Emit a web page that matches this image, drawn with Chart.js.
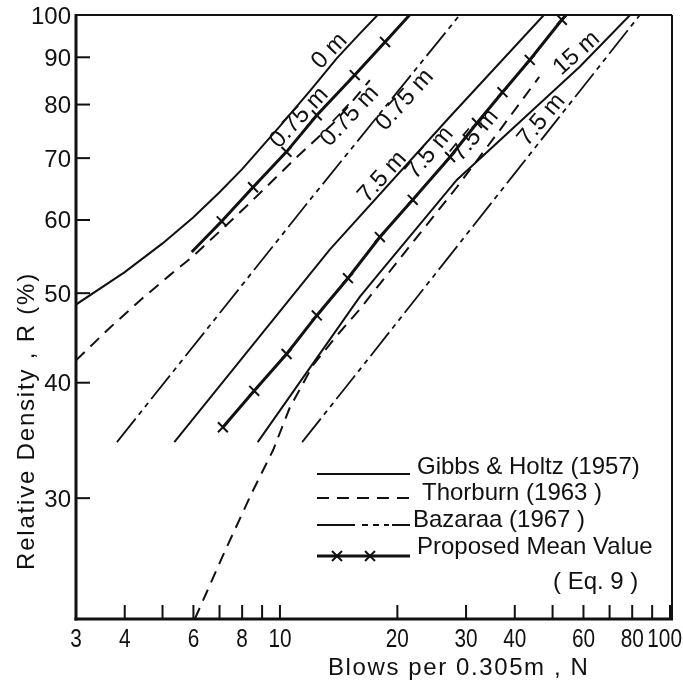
<!DOCTYPE html>
<html>
<head>
<meta charset="utf-8">
<script src="https://cdn.jsdelivr.net/npm/chart.js@4.4.1/dist/chart.umd.min.js"></script>
<style>
  html, body { margin: 0; padding: 0; background: #fff; }
  #wrap { width: 683px; height: 685px; }
</style>
</head>
<body>
<div id="wrap"><canvas id="densityChart" width="683" height="685"></canvas></div>
<script>
// axis ticks
var xTicks = [3, 4, 5, 6, 7, 8, 9, 10, 20, 30, 40, 50, 60, 70, 80, 90, 100];
var xTickLabels = ['3', '4', '', '6', '', '8', '', '10', '20', '30', '40', '', '60', '', '80', '', '100'];
var yTicks = [30, 40, 50, 60, 70, 80, 90, 100];
var yTickLabels = ['30', '40', '50', '60', '70', '80', '90', '100'];

// Gibbs & Holtz (1957)
var gibbs0N = [3, 4, 5, 6, 7, 8, 10, 12, 14, 16, 17.8];
var gibbs0R = [48.6, 52.7, 56.6, 60.4, 64.3, 68.1, 75.8, 83.0, 89.8, 95.4, 100];
var gibbs75N = [5.36, 13.4, 27.2, 47.5];
var gibbs75R = [34.5, 55.7, 77.5, 100];
var gibbs15N = [8.77, 16.0, 18.0, 28.4, 58.7, 79];
var gibbs15R = [34.5, 49.5, 52.6, 66.3, 87.9, 100];

// Thorburn (1963)
var thor075N = [3, 3.67, 4.45, 5.22, 5.98, 7.0, 8.37, 10.9, 14.0, 17.0];
var thor075R = [42.3, 45.9, 49.4, 52.3, 54.8, 58.3, 62.6, 69.8, 77.0, 85.0];
var thor75N = [6.05, 7.2, 8.47, 9.6, 10.6, 12.16, 14, 16.0, 21, 28.4, 37, 46.2];
var thor75R = [22.2, 26.2, 30.4, 33.8, 37.6, 41.8, 45.0, 48.0, 55.5, 65.1, 75.5, 85.7];

// Bazaraa (1967)
var baz075N = [3.82, 11.94, 28.9];
var baz075R = [34.5, 63.1, 100];
var baz75N = [11.4, 16, 40, 83.7];
var baz75R = [34.5, 41.3, 67.4, 100];

// Proposed mean value (Eq. 9)
var prop075N = [5.94, 7.09, 8.53, 10.39, 12.43, 15.55, 18.6, 21.5];
var prop075R = [55.4, 59.8, 65.1, 71.1, 77.9, 86.1, 93.5, 100];
var prop75N = [7.14, 8.59, 10.4, 12.43, 14.94, 18.04, 21.9, 27.3, 32.0, 37.2, 43.7, 52.8, 54.2];
var prop75R = [35.8, 39.2, 42.97, 47.3, 51.9, 57.5, 63.1, 70.2, 76.4, 82.5, 89.4, 98.8, 100];

// curve labels
var curveLabels = [
  { text: '0 m', n: 13.4, r: 91.4, rot: -46 },
  { text: '0.75 m', n: 11.2, r: 77.4, rot: -47 },
  { text: '0.75 m', n: 15.1, r: 77.7, rot: -47 },
  { text: '0.75 m', n: 20.9, r: 80.9, rot: -48 },
  { text: '7.5 m', n: 18.3, r: 66.8, rot: -48 },
  { text: '7.5 m', n: 24.2, r: 70.9, rot: -50 },
  { text: '7.5 m', n: 31.6, r: 74.1, rot: -50 },
  { text: '7.5 m', n: 46.8, r: 77.0, rot: -50 },
  { text: '15 m', n: 57.6, r: 90.9, rot: -42 }
];

var INK = '#111';
var FONT = '"Liberation Sans", Arial, sans-serif';

function pts(n, r) {
  return n.map(function (v, i) { return { x: v, y: r[i] }; });
}

function gibbs(n, r) {
  return { data: pts(n, r), borderColor: INK, borderWidth: 2, pointRadius: 0 };
}
function thorburn(n, r) {
  return { data: pts(n, r), borderColor: INK, borderWidth: 2, borderDash: [12, 8], pointRadius: 0 };
}
function bazaraa(n, r) {
  return { data: pts(n, r), borderColor: INK, borderWidth: 1.8, borderDash: [30, 5, 5, 5, 5, 5], pointRadius: 0 };
}
function proposed(n, r, markFirst) {
  return {
    data: pts(n, r), borderColor: INK, borderWidth: 3,
    pointStyle: 'crossRot', pointBorderColor: INK, pointBorderWidth: 2,
    pointRadius: function (c) {
      var last = c.dataset.data.length - 1;
      if (c.dataIndex === last) return 0;
      if (c.dataIndex === 0 && !markFirst) return 0;
      return 7;
    }
  };
}

function line(ctx, x1, y1, x2, y2) {
  ctx.beginPath(); ctx.moveTo(x1, y1); ctx.lineTo(x2, y2); ctx.stroke();
}

var framePlugin = {
  id: 'frame',
  afterDatasetsDraw: function (chart) {
    var ctx = chart.ctx, a = chart.chartArea;
    var xs = chart.scales.x, ys = chart.scales.y;
    ctx.save();
    ctx.strokeStyle = INK;
    ctx.fillStyle = INK;

    // box
    ctx.lineWidth = 2;
    line(ctx, a.left, a.top, a.right + 2, a.top);
    line(ctx, a.right + 2, a.top, a.right + 2, a.bottom);
    ctx.lineWidth = 3;
    line(ctx, a.left, a.top - 1, a.left, a.bottom + 1.5);
    line(ctx, a.left - 1.5, a.bottom, a.right + 3, a.bottom);

    // inward ticks
    ctx.lineWidth = 2;
    xTicks.forEach(function (v) {
      var px = xs.getPixelForValue(v);
      line(ctx, px, a.bottom, px, a.bottom - 14);
    });
    yTicks.forEach(function (v) {
      var py = ys.getPixelForValue(v);
      line(ctx, a.left, py, a.left + 14, py);
    });

    // tick labels
    ctx.font = '26px ' + FONT;
    ctx.textAlign = 'center';
    ctx.textBaseline = 'alphabetic';
    xTicks.forEach(function (v, i) {
      if (!xTickLabels[i]) return;
      var px = xs.getPixelForValue(v);
      var half = ctx.measureText(xTickLabels[i]).width * 0.8 / 2;
      if (px + half > chart.width - 1) px = chart.width - 1 - half;
      ctx.save();
      ctx.translate(px, a.bottom + 28);
      ctx.scale(0.8, 1);
      ctx.fillText(xTickLabels[i], 0, 0);
      ctx.restore();
    });
    ctx.textAlign = 'right';
    ctx.font = '24px ' + FONT;
    yTicks.forEach(function (v, i) {
      var py = ys.getPixelForValue(v);
      ctx.fillText(yTickLabels[i], a.left - 5, py + 8.5);
    });

    // axis titles
    ctx.textAlign = 'left';
    ctx.font = '24px ' + FONT;
    ctx.letterSpacing = '1.6px';
    ctx.fillText('Blows per 0.305m , N', 328, a.bottom + 56);
    ctx.save();
    ctx.translate(34, 421);
    ctx.rotate(-Math.PI / 2);
    ctx.textAlign = 'center';
    ctx.letterSpacing = '1.8px';
    ctx.fillText('Relative Density , R (%)', 0, 0);
    ctx.restore();
    ctx.letterSpacing = '0px';

    // curve labels
    ctx.font = '24px ' + FONT;
    ctx.textAlign = 'center';
    ctx.textBaseline = 'middle';
    curveLabels.forEach(function (l) {
      ctx.save();
      ctx.translate(xs.getPixelForValue(l.n), ys.getPixelForValue(l.r));
      ctx.rotate(l.rot * Math.PI / 180);
      ctx.fillText(l.text, 0, 0);
      ctx.restore();
    });

    // legend
    ctx.textAlign = 'left';
    ctx.textBaseline = 'alphabetic';
    ctx.font = '24px ' + FONT;
    var lx1 = 317, lx2 = 410;
    ctx.lineWidth = 2;
    line(ctx, lx1, 474, lx2, 474);
    ctx.fillText('Gibbs & Holtz (1957)', 417, 474);
    ctx.setLineDash([12, 8]);
    line(ctx, lx1, 498, lx2, 498);
    ctx.setLineDash([]);
    ctx.fillText('Thorburn (1963 )', 422, 500);
    ctx.lineWidth = 1.8;
    ctx.setLineDash([38, 7, 6, 5, 6, 5, 5, 3]);
    line(ctx, lx1, 525, lx2, 525);
    ctx.setLineDash([]);
    ctx.fillText('Bazaraa (1967 )', 413, 527);
    ctx.lineWidth = 3;
    line(ctx, lx1, 556, lx2, 556);
    ctx.lineWidth = 2;
    [337, 370].forEach(function (mx) {
      line(ctx, mx - 5, 551, mx + 5, 561);
      line(ctx, mx + 5, 551, mx - 5, 561);
    });
    ctx.fillText('Proposed Mean Value', 417, 554);
    ctx.fillText('( Eq. 9 )', 553, 589);
    ctx.restore();
  }
};

var ctx = document.getElementById('densityChart').getContext('2d');
var densityChart = new Chart(ctx, {
  type: 'line',
  data: {
    datasets: [
      gibbs(gibbs0N, gibbs0R),
      gibbs(gibbs75N, gibbs75R),
      gibbs(gibbs15N, gibbs15R),
      thorburn(thor075N, thor075R),
      thorburn(thor75N, thor75R),
      bazaraa(baz075N, baz075R),
      bazaraa(baz75N, baz75R),
      proposed(prop075N, prop075R, false),
      proposed(prop75N, prop75R, true)
    ]
  },
  options: {
    responsive: false,
    animation: false,
    devicePixelRatio: 1,
    layout: { padding: { left: 76, top: 15, right: 13, bottom: 66 } },
    plugins: { legend: { display: false }, tooltip: { enabled: false } },
    elements: { line: { tension: 0, fill: false } },
    scales: {
      x: { type: 'logarithmic', min: 3, max: 100, display: false },
      y: { type: 'logarithmic', min: 22.2, max: 100, display: false }
    }
  },
  plugins: [framePlugin]
});
</script>
</body>
</html>
